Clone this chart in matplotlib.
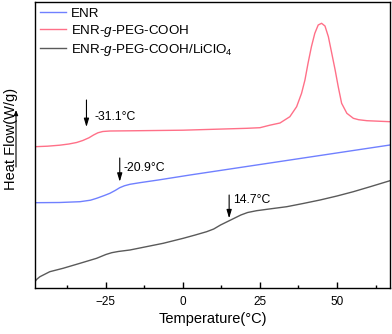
import matplotlib
matplotlib.use('Agg')
import matplotlib.pyplot as plt
from matplotlib.patches import FancyArrowPatch
from matplotlib.ticker import MultipleLocator

plt.rcParams['font.family'] = ['Liberation Sans', 'DejaVu Sans']
plt.rcParams['mathtext.fontset'] = 'custom'
plt.rcParams['mathtext.rm'] = 'Liberation Sans'
plt.rcParams['mathtext.it'] = 'Liberation Sans:italic'

# ENR-g-PEG-COOH (red)
t_red = [-48.0, -44.0, -40.0, -37.0, -34.5, -32.5, -30.5, -29.0, -27.6, -26.0, -23.7,
         -17.2, 0.0, 20.8, 25.0, 28.2, 31.5, 34.7,
         36.9, 38.5, 39.6, 40.6, 41.7, 42.8, 43.9, 45.0, 46.1, 47.2, 48.3, 49.4,
         50.4, 51.5, 53.2, 55.3, 57.0, 59.7, 67.2]
hf_red = [1.873, 1.878, 1.888, 1.900, 1.915, 1.935, 1.962, 1.990, 2.012, 2.025, 2.030,
          2.032, 2.038, 2.057, 2.063, 2.088, 2.110, 2.173,
          2.273, 2.407, 2.540, 2.707, 2.873, 3.007, 3.090, 3.107, 3.080, 2.973, 2.807, 2.640,
          2.473, 2.307, 2.207, 2.157, 2.143, 2.133, 2.123]

# ENR (blue)
t_blue = [-48.0, -40.0, -33.4, -30.0, -28.0, -25.5, -23.7, -22.0, -20.5, -19.0, -17.2,
          -14.0, -8.0, 2.3, 67.2]
hf_blue = [1.313, 1.315, 1.323, 1.338, 1.357, 1.385, 1.407, 1.435, 1.463, 1.482, 1.497,
           1.513, 1.540, 1.590, 1.890]

# ENR-g-PEG-COOH/LiClO4 (gray)
t_gray = [-48.0, -47.5, -47.0, -46.4, -43.2, -38.9, -33.4, -28.0, -25.0, -23.1, -21.0,
          -19.0, -17.2, -6.4, 0.1, 4.0, 7.7, 10.0, 12.2, 15.5, 18.8, 21.0, 23.9, 28.0,
          33.7, 39.0, 44.5, 50.0, 55.3, 61.0, 67.2]
hf_gray = [0.523, 0.545, 0.558, 0.573, 0.623, 0.657, 0.707, 0.757, 0.795, 0.813, 0.825,
           0.833, 0.840, 0.907, 0.957, 0.990, 1.023, 1.050, 1.090, 1.140, 1.190, 1.215,
           1.233, 1.250, 1.273, 1.305, 1.340, 1.380, 1.423, 1.475, 1.533]

# Tg marks: (arrow x, arrow top, arrow tip, text x, text y, label)
tg_marks = [(-31.3, 2.34, 2.07, -28.6, 2.173, '-31.1°C'),
            (-20.5, 1.76, 1.523, -19.2, 1.657, '-20.9°C'),
            (15.0, 1.39, 1.157, 16.3, 1.34, '14.7°C')]

fig = plt.figure(figsize=(3.92, 3.34), dpi=100)
ax = fig.add_axes([35/392, 1-288/334, 355/392, 286/334])

ax.plot(t_blue, hf_blue, color='#7080ff', lw=1.0, label='ENR')
ax.plot(t_red, hf_red, color='#ff7088', lw=1.0, label='ENR-$\\it{g}$-PEG-COOH')
ax.plot(t_gray, hf_gray, color='#5a5a5a', lw=1.0, label='ENR-$\\it{g}$-PEG-COOH/LiClO$_4$')

for xa, ytop, ytip, xt, yt, lab in tg_marks:
    ax.annotate('', xy=(xa, ytip), xytext=(xa, ytop),
                arrowprops=dict(arrowstyle='-|>,head_length=0.5,head_width=0.15',
                                color='black', lw=0.8, shrinkA=0, shrinkB=0))
    ax.text(xt, yt, lab, fontsize=8.8, va='center', ha='left')

ax.set_xlim(-48, 67.2)
ax.set_ylim(0.46, 3.32)
ax.set_yticks([])
ax.xaxis.set_major_locator(MultipleLocator(25))
ax.xaxis.set_minor_locator(MultipleLocator(12.5))
ax.tick_params(axis='x', which='major', direction='in', length=4, width=1, labelsize=8.5, pad=6)
ax.tick_params(axis='x', which='minor', direction='in', length=2.5, width=1)
ax.tick_params(top=False, right=False)
for s in ax.spines.values():
    s.set_linewidth(1.0)
ax.set_xlabel('Temperature(°C)', fontsize=10.5, labelpad=3)

ax.legend(loc='upper left', frameon=False, fontsize=9.6, handlelength=1.9,
          handletextpad=0.4, labelspacing=0.22, borderaxespad=0.1,
          borderpad=0.3, bbox_to_anchor=(0.0, 1.0))

fig.text(11/392, 1-139/334, 'Heat Flow(W/g)', rotation=90, fontsize=10.5,
         ha='center', va='center')
fig.add_artist(FancyArrowPatch(
    (16/392, 1-167/334), (16/392, 1-110/334), transform=fig.transFigure,
    arrowstyle='-|>,head_length=3,head_width=1.2', color='black', lw=0.8,
    shrinkA=0, shrinkB=0))

fig.savefig('out.png', dpi=100)
